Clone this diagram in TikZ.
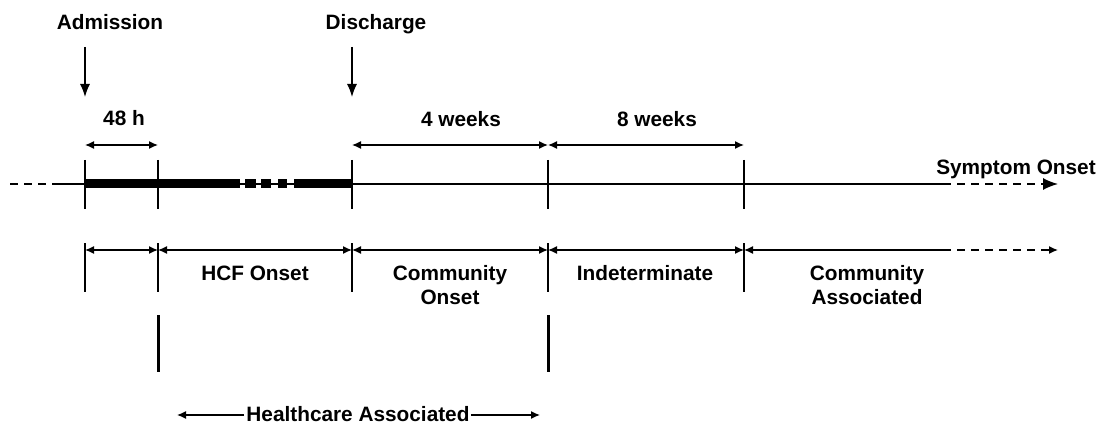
\documentclass[tikz,border=0pt]{standalone}
\usepackage{fontspec}
\setmainfont{Liberation Sans}
\usetikzlibrary{arrows.meta}
\begin{document}
\begin{tikzpicture}[x=1pt,y=-1pt,
  lbl/.style={font=\fontsize{20.8}{24}\selectfont\bfseries, inner sep=0pt, align=center, anchor=base},
  axis/.style={line width=1.4pt},
  tickline/.style={line width=1.4pt},
  span/.style={line width=1.4pt, {Latex[length=9pt,width=8pt]}-{Latex[length=9pt,width=8pt]}},
  lefthead/.style={line width=1.4pt, {Latex[length=9pt,width=8pt]}-},
  righthead/.style={line width=1.4pt, -{Latex[length=9pt,width=8pt]}},
  fadeline/.style={dash pattern=on 8pt off 6pt},
  marker/.style={line width=1.4pt, -{Latex[length=13pt,width=10pt]}},
  stay/.style={line width=9pt},
  boundary/.style={line width=3pt}
]
\useasboundingbox (0,0) rectangle (1104,425);

% positions along the time axis
\coordinate (pre) at (10,184);
\coordinate (preS) at (53,184);
\coordinate (adm) at (85,184);
\coordinate (h48) at (158,184);
\coordinate (dis) at (352,184);
\coordinate (w4) at (548,184);
\coordinate (w8) at (744,184);
\coordinate (axD) at (943,184);
\coordinate (axE) at (1058,184);

% event labels with arrows
\node[lbl] (admT) at (110,30) {Admission};
\node[lbl] (disT) at (376,30) {Discharge};
\coordinate (admA) at (85,47);
\coordinate (admB) at (85,97);
\coordinate (disA) at (352,47);
\coordinate (disB) at (352,97);
\draw[marker] (admA) -- (admB);
\draw[marker] (disA) -- (disB);

% interval spans above the axis
\node[lbl] (t48) at (124,126) {48 h};
\node[lbl] (t4w) at (461,127) {4 weeks};
\node[lbl] (t8w) at (657,127) {8 weeks};
\draw[span] ([yshift=39pt]adm) -- ([yshift=39pt]h48);
\draw[span] ([yshift=39pt]dis) -- ([yshift=39pt]w4);
\draw[span] ([yshift=39pt]w4) -- ([yshift=39pt]w8);

% the axis itself
\draw[axis, fadeline] (pre) -- (preS);
\draw[axis] (preS) -- (axD);
\draw[axis, fadeline, -{Latex[length=15pt,width=12pt]}] (axD) -- (axE);
\node[lbl] (sym) at (1016,175) {Symptom Onset};

% hospital stay
\draw[stay, dash pattern=on 155pt off 5pt on 11pt off 5pt on 10pt off 7pt on 9pt off 7pt on 70pt] (adm) -- (dis);

% ticks across the axis
\foreach \c in {adm,h48,dis,w4,w8}{
  \draw[tickline] ([yshift=24pt]\c) -- ([yshift=-25pt]\c);
}

% onset categories below the axis
\coordinate (b0) at (85,250);
\coordinate (b1) at (158,250);
\coordinate (b2) at (352,250);
\coordinate (b3) at (548,250);
\coordinate (b4) at (744,250);
\coordinate (b5) at (943,250);
\coordinate (b6) at (1058,250);
\foreach \c in {b0,b1,b2,b3,b4}{
  \draw[tickline] ([yshift=7pt]\c) -- ([yshift=-42pt]\c);
}
\draw[span] (b0) -- (b1);
\draw[span] (b1) -- (b2);
\draw[span] (b2) -- (b3);
\draw[span] (b3) -- (b4);
\draw[lefthead] (b4) -- (b5);
\draw[righthead, fadeline] (b5) -- (b6);

\node[lbl] (hcf) at (255,280) {HCF Onset};
\node[lbl] (co) at (450,304) {Community\\Onset};
\node[lbl] (ind) at (645,280) {Indeterminate};
\node[lbl] (ca) at (867,304) {Community\\Associated};

% healthcare associated bracket
\coordinate (hL) at (158,315);
\coordinate (hLb) at (158,372);
\coordinate (hR) at (548,315);
\coordinate (hRb) at (548,372);
\draw[boundary] (hL) -- (hLb);
\draw[boundary] (hR) -- (hRb);
\node[lbl] (ha) at (358,421) {Healthcare Associated};
\coordinate (haL) at (177,415);
\coordinate (haR) at (540,415);
\draw[righthead] ([xshift=-2pt]ha.west |- haL) -- (haL);
\draw[righthead] ([xshift=1pt]ha.east |- haR) -- (haR);
\end{tikzpicture}
\end{document}
